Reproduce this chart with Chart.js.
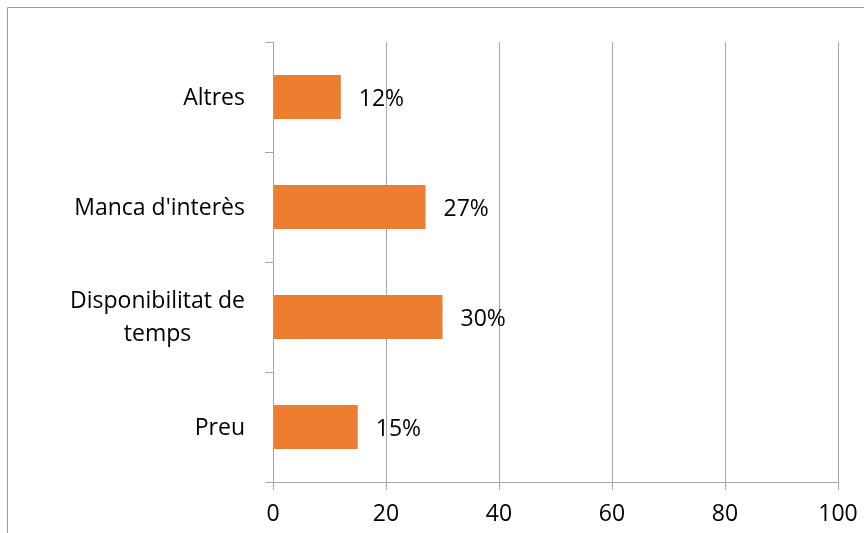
<!DOCTYPE html>
<html>
<head>
<meta charset="utf-8">
<script src="https://cdn.jsdelivr.net/npm/chart.js@4.4.0/dist/chart.umd.min.js"></script>
<style>
  html, body { margin: 0; padding: 0; background: #fff; }
  canvas { display: block; }
</style>
</head>
<body>
<canvas id="grafic" width="864" height="533"></canvas>
<script>
const categories = ['Altres', "Manca d'interès", ['Disponibilitat de', 'temps'], 'Preu'];
const values = [12, 27, 30, 15];
const valueLabels = ['12%', '27%', '30%', '15%'];
const xTicks = [0, 20, 40, 60, 80, 100];

const font = { family: '"Open Sans", sans-serif', size: 23 };
const gris = '#a6a6a6';

// marc de fora (només es veu l'esquerra i el de dalt)
const frame = {
  id: 'frame',
  beforeDraw(chart) {
    const c = chart.ctx;
    c.save();
    c.strokeStyle = '#999';
    c.lineWidth = 1;
    c.beginPath();
    c.moveTo(7.5, 533);
    c.lineTo(7.5, 7.5);
    c.lineTo(864, 7.5);
    c.stroke();
    c.restore();
  }
};

// noms de categoria: alineats a la dreta, línies centrades entre elles
const categoriesLabels = {
  id: 'categoriesLabels',
  afterDraw(chart) {
    const c = chart.ctx;
    const y = chart.scales.y;
    const right = 245;
    const lh = 33;
    c.save();
    c.font = `${font.size}px ${font.family}`;
    c.fillStyle = '#000';
    c.textAlign = 'center';
    c.textBaseline = 'middle';
    chart.data.labels.forEach((lab, i) => {
      const lines = Array.isArray(lab) ? lab : [lab];
      const w = Math.max(...lines.map(l => c.measureText(l).width));
      const cx = right - w / 2;
      const cy = y.getPixelForValue(i) + 1;
      lines.forEach((l, k) => {
        c.fillText(l, cx, cy + (k - (lines.length - 1) / 2) * lh);
      });
    });
    c.restore();
  }
};

// etiquetes de valor al costat de cada barra
const etiquetes = {
  id: 'etiquetes',
  afterDatasetsDraw(chart) {
    const c = chart.ctx;
    const meta = chart.getDatasetMeta(0);
    c.save();
    c.font = `${font.size}px ${font.family}`;
    c.fillStyle = '#000';
    c.textAlign = 'left';
    c.textBaseline = 'middle';
    meta.data.forEach((bar, i) => {
      c.fillText(valueLabels[i], bar.x + 18, bar.y + 2);
    });
    c.restore();
  }
};

new Chart(document.getElementById('grafic'), {
  type: 'bar',
  data: {
    labels: categories,
    datasets: [{
      data: values,
      backgroundColor: '#ED7D31',
      borderWidth: 0,
      categoryPercentage: 0.8,
      barPercentage: 0.5
    }]
  },
  options: {
    indexAxis: 'y',
    responsive: false,
    animation: false,
    layout: { padding: { top: 42, right: 26, bottom: 0, left: 0 } },
    plugins: {
      legend: { display: false },
      tooltip: { enabled: false }
    },
    scales: {
      x: {
        min: 0,
        max: 100,
        afterBuildTicks(scale) {
          scale.ticks = xTicks.map(v => ({ value: v }));
        },
        afterFit(scale) {
          scale.height = 51;
          scale.paddingLeft = 0;
          scale.paddingRight = 0;
        },
        grid: { color: gris, lineWidth: 1, tickLength: 8, drawTicks: true },
        border: { color: gris },
        ticks: { color: '#000', font: font, padding: 11, maxRotation: 0 }
      },
      y: {
        afterFit(scale) { scale.width = 273; },
        grid: { drawOnChartArea: false, color: gris, tickLength: 8, offset: true },
        border: { color: gris },
        ticks: { display: false }
      }
    }
  },
  plugins: [frame, categoriesLabels, etiquetes]
});
</script>
</body>
</html>
